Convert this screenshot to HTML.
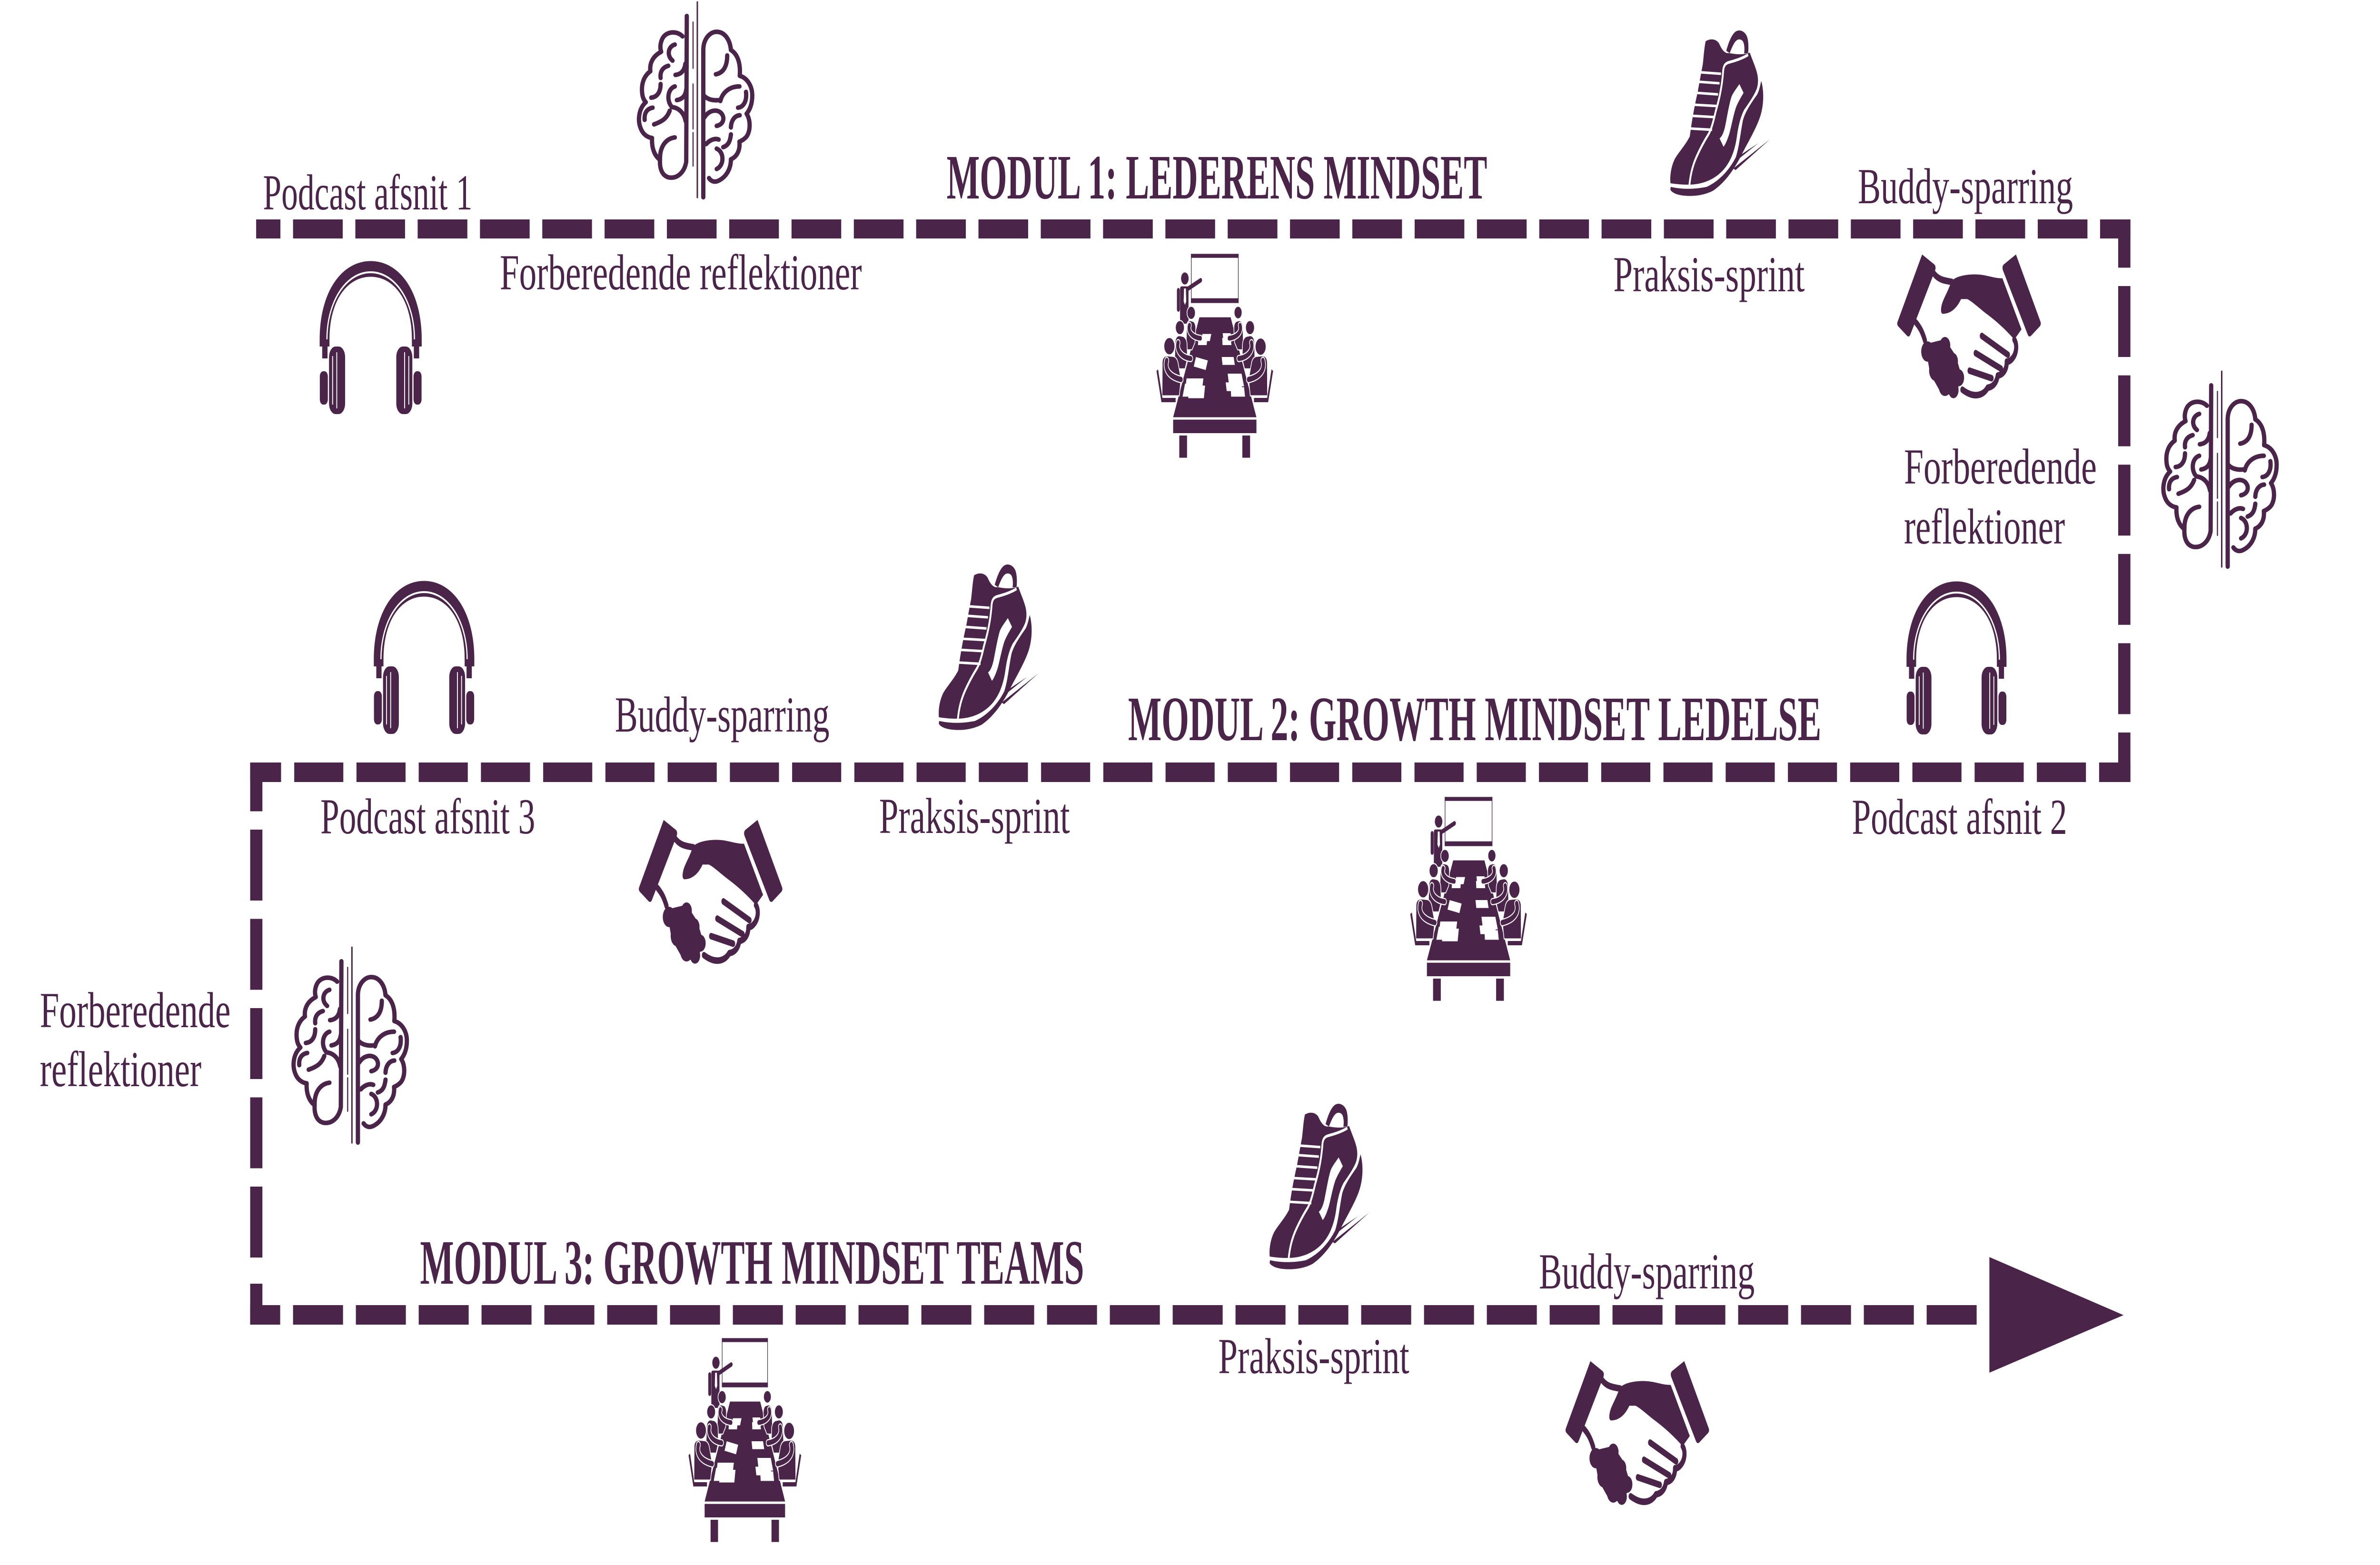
<!DOCTYPE html>
<html>
<head>
<meta charset="utf-8">
<style>
  html,body{margin:0;padding:0;background:#fff;overflow:hidden;width:100%;height:100%;}
  svg{display:block;width:100vw;height:100vh;}
</style>
</head>
<body>
<svg xmlns="http://www.w3.org/2000/svg" xmlns:xlink="http://www.w3.org/1999/xlink" viewBox="0 0 8000 3288" preserveAspectRatio="none">
<rect width="8000" height="3288" fill="#fff"/>
<defs>
  <!-- Brain (zoom-7 coordinates) -->
  <g id="brain" fill="none" stroke="#4a2549" stroke-linecap="round" stroke-linejoin="round">
    <g stroke-width="15">
      <path d="M1185,255 C1165,235 1125,238 1113,265 C1106,280 1106,295 1110,306 C1085,318 1068,340 1072,370 C1050,385 1040,410 1043,440 C1044,455 1049,465 1056,472 C1032,492 1026,530 1038,558 C1046,578 1062,588 1078,590 C1076,622 1086,648 1106,662 C1104,692 1114,715 1138,720 C1168,724 1192,702 1198,668 L1200,188"/>
      <path d="M1158,282 C1135,288 1128,318 1150,335"/>
      <path d="M1195,345 C1192,368 1180,380 1160,382"/>
      <path d="M1135,352 C1112,358 1106,375 1108,392"/>
      <path d="M1108,412 C1108,440 1095,455 1075,457"/>
      <path d="M1080,490 C1058,494 1050,510 1052,530"/>
      <path d="M1158,420 C1132,428 1128,468 1148,488 C1170,490 1190,505 1196,535"/>
      <path d="M1165,465 C1185,462 1196,450 1198,430"/>
      <path d="M1140,500 C1130,525 1115,535 1085,545"/>
      <path d="M1158,588 C1125,592 1105,620 1106,660"/>
      <path d="M1258,785 L1258,300 C1258,265 1280,240 1305,240 C1332,240 1352,265 1355,300 C1376,312 1390,340 1386,385 C1412,392 1430,418 1430,450 C1430,478 1421,498 1410,510 C1426,532 1424,575 1405,590 C1397,597 1390,600 1385,602 C1388,632 1375,652 1355,660 C1355,692 1338,720 1308,732 C1296,736 1285,732 1278,722"/>
      <path d="M1302,380 C1330,375 1342,352 1342,318"/>
      <path d="M1385,420 C1350,420 1325,440 1318,468"/>
      <path d="M1260,450 C1275,465 1295,467 1315,465"/>
      <path d="M1408,438 C1412,470 1398,488 1380,490"/>
      <path d="M1262,522 C1278,498 1305,494 1320,507 C1335,522 1330,545 1305,550"/>
      <path d="M1355,555 C1356,530 1370,516 1386,515"/>
      <path d="M1355,578 C1352,605 1343,615 1328,620"/>
      <path d="M1268,610 C1282,595 1300,590 1312,595"/>
      <path d="M1305,625 C1332,636 1332,680 1305,692"/>
    </g>
    <path stroke-width="5" d="M1237,142 L1237,786"/>
    <path stroke-width="4" d="M1222,208 L1222,360 M1222,412 L1222,560 M1222,572 L1222,682"/>
  </g>

  <!-- Headphones (local coords 0..348 x 0..322) -->
  <g id="hp">
    <path d="M19,180 L19,165 C19,75 85,17 174,17 C263,17 329,75 329,165 L329,180" fill="none" stroke="#4a2549" stroke-width="33"/>
    <path d="M27,165 C27,85 92,24 174,24 C256,24 321,85 321,165" fill="none" stroke="#fff" stroke-width="4"/>
    <g fill="#4a2549">
      <rect x="11" y="175" width="18" height="30"/>
      <rect x="319" y="175" width="18" height="30"/>
      <rect x="34" y="180" width="54" height="142" rx="22"/>
      <rect x="260" y="180" width="54" height="142" rx="22"/>
      <rect x="3" y="232" width="27" height="70" rx="11"/>
      <rect x="318" y="232" width="27" height="70" rx="11"/>
    </g>
    <path d="M46,200 V302 M60,192 V310 M288,192 V310 M302,200 V302" stroke="#fff" stroke-width="3"/>
  </g>

  <!-- Shoe (zoom-10 coordinates, scale 1/3) -->
  <g id="shoe">
    <g fill="#4a2549">
      <path d="M460,140 C510,120 575,125 600,160 C625,195 650,212 680,215 L700,215 C780,225 850,225 905,212 C935,265 965,305 980,345 C992,380 990,410 975,440 C950,480 895,530 850,570 C815,610 790,670 775,740 C760,810 725,880 665,930 C590,995 470,1035 340,1042 C250,1047 160,1040 105,1035 C98,990 110,930 150,880 C200,830 260,790 300,740 C320,640 350,540 380,460 C400,390 420,320 430,290 C440,240 445,180 460,140 Z"/>
      <path d="M668,200 C690,150 720,100 760,80 C800,62 855,75 878,112 C893,140 894,185 888,215 L848,217 C855,185 850,150 830,136 C800,120 770,130 750,150 C730,170 715,195 702,215 Z"/>
      <path d="M1020,390 C1045,440 1052,530 1012,610 C972,690 882,780 802,880 C732,960 652,1030 540,1080 C420,1122 250,1122 160,1102 C130,1094 110,1086 104,1074 L108,1058 C200,1072 330,1076 470,1058 C600,1020 700,950 765,870 C800,800 810,720 835,640 C860,580 930,520 980,475 C1000,450 1010,420 1020,390 Z"/>
      <path d="M738,942 L1108,758 L762,952 Z"/>
      <path d="M766,876 L992,782 L772,892 Z"/>
    </g>
    <path d="M888,225 C840,245 760,262 700,272 C660,278 640,292 636,330 C626,420 600,500 562,580 C540,640 520,690 490,725 C450,765 410,810 370,865 C330,920 305,980 296,1050" fill="none" stroke="#fff" stroke-width="18"/>
    <path d="M395,335 L615,345 M380,395 L600,405 M360,465 L585,475 M340,540 L568,548 M322,610 L550,618 M305,690 L525,698" stroke="#fff" stroke-width="16" fill="none"/>
    <path d="M800,410 C780,430 740,460 720,490 C695,540 675,620 655,680 C640,720 620,745 600,752 L640,805 C660,790 680,760 700,720 C725,660 745,590 770,550 C790,520 820,490 842,465 Z" fill="#fff"/>
  </g>

  <!-- Handshake (zoom-11 coordinates, scale 0.34435) -->
  <g id="hand">
    <g fill="#4a2549">
      <path d="M322,333 L440,393 Q460,405 450,428 L207,822 Q195,840 176,830 L90,772 Q74,760 82,744 Z"/>
      <path d="M1238,333 L1120,393 Q1100,405 1110,428 L1353,822 Q1365,840 1384,830 L1470,772 Q1486,760 1478,744 Z"/>
      <path d="M612,494 C650,466 760,452 860,455 C960,458 1030,480 1106,478 L1292,790 L1222,852 C1150,800 1050,740 940,690 C870,655 800,615 762,605 L702,605 C662,660 602,695 522,695 C500,690 504,660 518,630 C538,595 562,570 578,545 Z"/>
      <circle cx="375" cy="925" r="62"/>
      <circle cx="545" cy="888" r="52"/>
      <circle cx="620" cy="985" r="52"/>
      <circle cx="455" cy="1040" r="65"/>
      <circle cx="680" cy="1085" r="52"/>
      <circle cx="545" cy="1135" r="62"/>
      <circle cx="628" cy="1160" r="50"/>
      <path d="M350,880 L545,850 L650,950 L715,1090 L630,1200 L490,1160 L400,1060 Z"/>
    </g>
    <g fill="none" stroke="#4a2549" stroke-width="40" stroke-linecap="round" stroke-linejoin="round">
      <path d="M438,450 C480,485 530,492 612,500"/>
      <path d="M262,748 C300,778 322,800 350,858"/>
      <path d="M1222,852 C1252,882 1246,938 1200,970 C1180,985 1160,988 1148,986 C1150,1030 1120,1065 1060,1072 C1050,1112 1020,1140 962,1146 C932,1180 882,1196 822,1190 C780,1186 745,1172 715,1158"/>
      <path d="M905,830 L1160,945"/>
      <path d="M845,935 L1092,1030"/>
      <path d="M785,1042 L1000,1088"/>
    </g>
  </g>

  <!-- Conference table (zoom-12 coordinates, scale 1/3) -->
  <g id="conf">
    <g fill="#4a2549">
      <!-- board -->
      <rect x="430" y="40" width="480" height="25"/>
      <rect x="430" y="320" width="480" height="30"/>
      <rect x="430" y="40" width="6" height="310"/>
      <rect x="904" y="40" width="6" height="310"/>
      <!-- presenter -->
      <circle cx="368" cy="195" r="38"/>
      <rect x="320" y="245" width="85" height="235" rx="14"/>
      <rect x="288" y="255" width="30" height="150" rx="15"/>
    </g>
    <path d="M395,262 L528,206" stroke="#4a2549" stroke-width="28" stroke-linecap="round" fill="none"/>
    <polygon points="360,258 378,258 382,340 369,362 356,340" fill="#fff"/>
    <g fill="#4a2549">
      <!-- table -->
      <polygon points="515,440 830,440 1090,1070 250,1070"/>
      <rect x="250" y="1085" width="840" height="85"/>
      <rect x="312" y="1185" width="78" height="140"/>
      <rect x="948" y="1185" width="78" height="140"/>
    </g>
    <g fill="#fff">
      <polygon points="545,545 635,545 620,590 530,590"/>
      <polygon points="505,565 595,565 588,615 500,615"/>
      <polygon points="750,540 830,540 838,585 756,585"/>
      <polygon points="745,570 830,570 838,615 748,615"/>
      <polygon points="480,690 600,712 578,772 458,750"/>
      <polygon points="740,690 860,690 872,740 748,740"/>
      <polygon points="385,825 555,825 545,880 375,880"/>
      <polygon points="370,858 470,858 455,940 345,940"/>
      <polygon points="420,870 572,870 560,950 402,950"/>
      <polygon points="800,795 940,795 965,875 815,875"/>
      <polygon points="780,850 940,850 945,905 790,905"/>
      <polygon points="830,880 965,880 975,940 835,940"/>
    </g>
    <g fill="#4a2549" stroke="#fff" stroke-width="7" stroke-linejoin="round">
      <!-- back row -->
      <path d="M380,645 L386,495 Q390,462 425,460 L455,466 Q478,478 478,510 L470,600 L440,645 Z"/>
      <circle cx="432" cy="412" r="42"/>
      <path d="M960,645 L954,495 Q950,462 915,460 L885,466 Q862,478 862,510 L870,600 L900,645 Z"/>
      <circle cx="905" cy="410" r="40"/>
    </g>
    <g fill="none" stroke-linecap="round">
      <path d="M415,490 C395,525 435,565 525,572" stroke="#fff" stroke-width="44"/>
      <path d="M415,490 C395,525 435,565 525,572" stroke="#4a2549" stroke-width="30"/>
      <path d="M925,490 C945,525 905,565 815,572" stroke="#fff" stroke-width="44"/>
      <path d="M925,490 C945,525 905,565 815,572" stroke="#4a2549" stroke-width="30"/>
    </g>
    <g fill="#4a2549" stroke="#fff" stroke-width="7" stroke-linejoin="round">
      <!-- middle row -->
      <path d="M262,765 L270,595 Q275,558 312,555 L352,560 Q385,572 390,605 L395,700 L370,765 Z"/>
      <circle cx="318" cy="505" r="45"/>
      <path d="M1078,765 L1070,595 Q1065,558 1028,555 L988,560 Q955,572 950,605 L945,700 L970,765 Z"/>
      <circle cx="1025" cy="505" r="45"/>
    </g>
    <g fill="none" stroke-linecap="round">
      <path d="M300,600 C282,640 320,690 428,700" stroke="#fff" stroke-width="46"/>
      <path d="M300,600 C282,640 320,690 428,700" stroke="#4a2549" stroke-width="32"/>
      <path d="M1040,600 C1058,640 1020,690 912,700" stroke="#fff" stroke-width="46"/>
      <path d="M1040,600 C1058,640 1020,690 912,700" stroke="#4a2549" stroke-width="32"/>
    </g>
    <g fill="#4a2549" stroke="#fff" stroke-width="7" stroke-linejoin="round">
      <!-- front row -->
      <path d="M138,935 L140,725 Q142,684 188,682 L252,686 Q292,692 302,735 L330,830 L312,935 Z"/>
      <circle cx="212" cy="622" r="55"/>
      <path d="M1202,935 L1200,725 Q1198,684 1152,682 L1088,686 Q1048,692 1038,735 L1010,830 L1028,935 Z"/>
      <circle cx="1132" cy="625" r="55"/>
    </g>
    <g fill="none" stroke-linecap="round">
      <path d="M185,712 C160,770 215,815 330,832" stroke="#fff" stroke-width="48"/>
      <path d="M185,712 C160,770 215,815 330,832" stroke="#4a2549" stroke-width="34"/>
      <path d="M1155,712 C1180,770 1125,815 1010,832" stroke="#fff" stroke-width="48"/>
      <path d="M1155,712 C1180,770 1125,815 1010,832" stroke="#4a2549" stroke-width="34"/>
    </g>
    <g fill="#4a2549">
      <polygon points="82,778 98,768 142,948 275,948 275,975 132,975"/>
      <polygon points="1258,778 1242,768 1198,948 1065,948 1065,975 1208,975"/>
    </g>
  </g>
</defs>

<!-- Dashed path -->
<g stroke="#4a2549" fill="none" stroke-linecap="butt">
  <line x1="861" y1="481" x2="7161" y2="481" stroke-width="40" stroke-dasharray="167 42.45" stroke-dashoffset="85.45"/>
  <line x1="7140.5" y1="461" x2="7140.5" y2="1643" stroke-width="41" stroke-dasharray="149 38.6" stroke-dashoffset="47.6"/>
  <line x1="841" y1="1622.5" x2="7161" y2="1622.5" stroke-width="41" stroke-dasharray="165 44.2" stroke-dashoffset="61.2"/>
  <line x1="861.5" y1="1602" x2="861.5" y2="2660" stroke-width="41" stroke-dasharray="149 38.5" stroke-dashoffset="46.5"/>
  <line x1="841" y1="2762.5" x2="6645" y2="2762.5" stroke-width="41" stroke-dasharray="168 43.2" stroke-dashoffset="67.2"/>
</g>
<rect x="841" y="2697" width="41" height="86" fill="#4a2549"/>
<polygon points="6687,2641 7138,2763 6687,2884" fill="#4a2549"/>

<!-- Brains -->
<use xlink:href="#brain" href="#brain" transform="translate(2144,3) scale(0.9567,0.6378) translate(-1028,-140)"/>
<use xlink:href="#brain" href="#brain" transform="translate(7268,779) scale(0.9567,0.6378) translate(-1028,-140)"/>
<use xlink:href="#brain" href="#brain" transform="translate(983,1989) scale(0.9567,0.6378) translate(-1028,-140)"/>

<!-- Headphones -->
<use xlink:href="#hp" href="#hp" transform="translate(1072,548)"/>
<use xlink:href="#hp" href="#hp" transform="translate(1254,1220) scale(0.985,1)"/>
<use xlink:href="#hp" href="#hp" transform="translate(6406,1221) scale(0.98,1)"/>

<!-- Shoes -->
<use xlink:href="#shoe" href="#shoe" transform="translate(5580,40) scale(0.33333)"/>
<use xlink:href="#shoe" href="#shoe" transform="translate(3121,1162) scale(0.33333)"/>
<use xlink:href="#shoe" href="#shoe" transform="translate(4233,2295) scale(0.33333)"/>

<!-- Handshakes -->
<use xlink:href="#hand" href="#hand" transform="translate(6350,420) scale(0.34435)"/>
<use xlink:href="#hand" href="#hand" transform="translate(2120,1608) scale(0.34435)"/>
<use xlink:href="#hand" href="#hand" transform="translate(5235,2745) scale(0.34435)"/>

<!-- Conference tables -->
<use xlink:href="#conf" href="#conf" transform="translate(3860,520) scale(0.33333)"/>
<use xlink:href="#conf" href="#conf" transform="translate(4713,1661) scale(0.33333)"/>
<use xlink:href="#conf" href="#conf" transform="translate(2288,2798) scale(0.322,0.33333)"/>

<!-- Labels -->
<g font-family="'Liberation Serif', 'DejaVu Serif', serif" fill="#4a2549" font-size="106">
  <text x="884" y="440" textLength="704" lengthAdjust="spacingAndGlyphs">Podcast afsnit 1</text>
  <text x="1680" y="608" textLength="1217" lengthAdjust="spacingAndGlyphs">Forberedende reflektioner</text>
  <text x="5423" y="612" textLength="643" lengthAdjust="spacingAndGlyphs">Praksis-sprint</text>
  <text x="6245" y="427" textLength="723" lengthAdjust="spacingAndGlyphs">Buddy-sparring</text>
  <text x="6400" y="1016" textLength="648" lengthAdjust="spacingAndGlyphs">Forberedende</text>
  <text x="6400" y="1142" textLength="541" lengthAdjust="spacingAndGlyphs">reflektioner</text>
  <text x="2067" y="1537" textLength="721" lengthAdjust="spacingAndGlyphs">Buddy-sparring</text>
  <text x="1077" y="1751" textLength="722" lengthAdjust="spacingAndGlyphs">Podcast afsnit 3</text>
  <text x="2955" y="1750" textLength="641" lengthAdjust="spacingAndGlyphs">Praksis-sprint</text>
  <text x="6225" y="1752" textLength="723" lengthAdjust="spacingAndGlyphs">Podcast afsnit 2</text>
  <text x="134" y="2158" textLength="641" lengthAdjust="spacingAndGlyphs">Forberedende</text>
  <text x="134" y="2282" textLength="543" lengthAdjust="spacingAndGlyphs">reflektioner</text>
  <text x="4095" y="2885" textLength="642" lengthAdjust="spacingAndGlyphs">Praksis-sprint</text>
  <text x="5173" y="2707" textLength="725" lengthAdjust="spacingAndGlyphs">Buddy-sparring</text>
</g>
<g font-family="'Liberation Serif', 'DejaVu Serif', serif" fill="#4a2549" font-size="133" font-weight="bold">
  <text x="3182" y="417" textLength="1817" lengthAdjust="spacingAndGlyphs">MODUL 1: LEDERENS MINDSET</text>
  <text x="3792" y="1555" textLength="2330" lengthAdjust="spacingAndGlyphs">MODUL 2: GROWTH MINDSET LEDELSE</text>
  <text x="1412" y="2697" textLength="2232" lengthAdjust="spacingAndGlyphs">MODUL 3: GROWTH MINDSET TEAMS</text>
</g>
</svg>
</body>
</html>
